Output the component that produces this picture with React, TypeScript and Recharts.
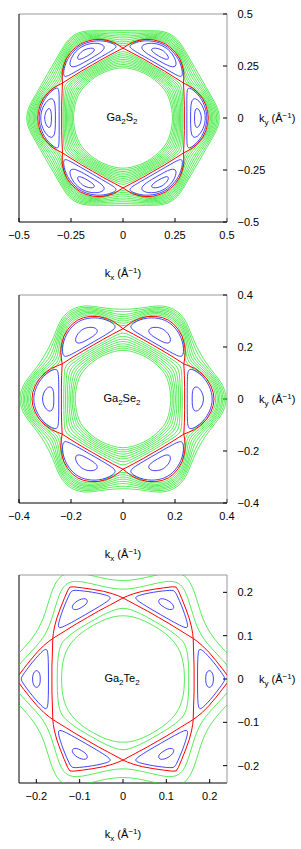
import { Scatter, ScatterChart, XAxis, YAxis } from "recharts"

// Contours. The rings give a radius every 5 degrees from the
// pocket axis (0 deg) to the saddle axis (30 deg). The pockets give the upper half of the
// right-hand pocket, running from its outer tip to its inner edge. The 6-fold and mirror
// symmetry of the plot fills in the rest.
const RING_ANGLES = [0, 5, 10, 15, 20, 25, 30]

const S2_TICKS = [-0.5, -0.25, 0, 0.25, 0.5]
const SE2_TICKS = [-0.4, -0.2, 0, 0.2, 0.4]
const TE2_TICKS = [-0.2, -0.1, 0, 0.1, 0.2]

const S2_INNER = [
  [0.238, 0.238, 0.238, 0.239, 0.24, 0.241, 0.242],
  [0.244, 0.244, 0.245, 0.246, 0.247, 0.249, 0.25],
  [0.25, 0.25, 0.251, 0.253, 0.255, 0.257, 0.258],
  [0.255, 0.256, 0.257, 0.259, 0.262, 0.265, 0.266],
  [0.261, 0.261, 0.263, 0.266, 0.269, 0.273, 0.275],
  [0.266, 0.267, 0.269, 0.272, 0.276, 0.281, 0.283],
  [0.272, 0.272, 0.275, 0.279, 0.284, 0.289, 0.292],
  [0.277, 0.278, 0.281, 0.285, 0.291, 0.297, 0.301],
  [0.283, 0.284, 0.287, 0.291, 0.298, 0.305, 0.311],
  [0.288, 0.289, 0.292, 0.297, 0.305, 0.314, 0.322],
]
const S2_OUTER = [
  [0.416, 0.414, 0.406, 0.392, 0.373, 0.355, 0.346],
  [0.422, 0.419, 0.41, 0.395, 0.377, 0.362, 0.356],
  [0.428, 0.425, 0.414, 0.399, 0.381, 0.37, 0.365],
  [0.434, 0.43, 0.419, 0.405, 0.389, 0.379, 0.374],
  [0.44, 0.436, 0.424, 0.411, 0.397, 0.388, 0.384],
  [0.446, 0.442, 0.429, 0.417, 0.404, 0.396, 0.393],
  [0.453, 0.448, 0.435, 0.423, 0.411, 0.405, 0.402],
  [0.459, 0.454, 0.441, 0.429, 0.419, 0.414, 0.411],
  [0.465, 0.46, 0.447, 0.435, 0.426, 0.422, 0.42],
]
const S2_RED = [
  [0.41, 0], [0.407, 0.03], [0.398, 0.062], [0.383, 0.093], [0.362, 0.12],
  [0.337, 0.143], [0.312, 0.157], [0.291, 0.168], [0.293, 0.12], [0.295, 0.06], [0.295, 0],
]
const S2_BLUE = [
  [
    [0.404, 0], [0.401, 0.03], [0.392, 0.06], [0.378, 0.09], [0.358, 0.116], [0.336, 0.136],
    [0.318, 0.146], [0.309, 0.14], [0.307, 0.11], [0.307, 0.06], [0.307, 0],
  ],
  [
    [0.396, 0], [0.394, 0.025], [0.386, 0.05], [0.373, 0.073], [0.357, 0.09], [0.342, 0.095],
    [0.331, 0.085], [0.326, 0.06], [0.325, 0.03], [0.325, 0],
  ],
  [
    [0.377, 0], [0.375, 0.016], [0.369, 0.034], [0.36, 0.046], [0.351, 0.046], [0.346, 0.033],
    [0.344, 0.016], [0.344, 0],
  ],
]

const SE2_INNER = [
  [0.184, 0.184, 0.184, 0.185, 0.186, 0.187, 0.188],
  [0.19, 0.19, 0.191, 0.192, 0.193, 0.195, 0.196],
  [0.196, 0.196, 0.197, 0.198, 0.2, 0.203, 0.204],
  [0.202, 0.202, 0.203, 0.205, 0.208, 0.211, 0.213],
  [0.208, 0.208, 0.21, 0.212, 0.216, 0.22, 0.222],
  [0.214, 0.215, 0.217, 0.22, 0.224, 0.229, 0.231],
  [0.221, 0.222, 0.224, 0.227, 0.232, 0.239, 0.243],
  [0.228, 0.229, 0.231, 0.235, 0.241, 0.249, 0.256],
]
const SE2_OUTER = [
  [0.358, 0.355, 0.345, 0.327, 0.305, 0.288, 0.28],
  [0.364, 0.361, 0.351, 0.334, 0.313, 0.297, 0.289],
  [0.369, 0.366, 0.356, 0.34, 0.32, 0.305, 0.298],
  [0.375, 0.371, 0.361, 0.345, 0.327, 0.313, 0.306],
  [0.381, 0.377, 0.366, 0.35, 0.334, 0.321, 0.315],
  [0.386, 0.382, 0.371, 0.355, 0.34, 0.329, 0.324],
  [0.392, 0.388, 0.376, 0.36, 0.347, 0.338, 0.335],
  [0.398, 0.394, 0.382, 0.366, 0.354, 0.347, 0.345],
]
const SE2_RED = [
  [0.35, 0], [0.347, 0.025], [0.338, 0.05], [0.322, 0.077], [0.3, 0.1], [0.275, 0.118],
  [0.252, 0.128], [0.234, 0.135], [0.236, 0.09], [0.237, 0.045], [0.237, 0],
]
const SE2_BLUE = [
  [
    [0.344, 0], [0.341, 0.025], [0.332, 0.05], [0.317, 0.075], [0.296, 0.097], [0.273, 0.112],
    [0.256, 0.116], [0.249, 0.105], [0.247, 0.07], [0.247, 0],
  ],
  [
    [0.31, 0], [0.308, 0.015], [0.301, 0.032], [0.29, 0.045], [0.277, 0.048], [0.269, 0.038],
    [0.266, 0.02], [0.266, 0],
  ],
]

const TE2_INNER = [
  [0.142, 0.142, 0.143, 0.144, 0.145, 0.146, 0.146],
  [0.152, 0.152, 0.154, 0.156, 0.159, 0.162, 0.164],
]
const TE2_OUTER = [
  [0.258, 0.25, 0.236, 0.224, 0.215, 0.209, 0.207],
  [0.28, 0.272, 0.258, 0.245, 0.235, 0.229, 0.227],
]
const TE2_RED = [
  [0.245, 0], [0.241, 0.008], [0.229, 0.024], [0.214, 0.043], [0.198, 0.062], [0.183, 0.077],
  [0.171, 0.087], [0.162, 0.0935], [0.163, 0.06], [0.164, 0.03], [0.164, 0],
]
const TE2_BLUE = [
  [
    [0.236, 0], [0.232, 0.008], [0.222, 0.022], [0.209, 0.039], [0.195, 0.055], [0.183, 0.067],
    [0.176, 0.07], [0.173, 0.06], [0.172, 0.03], [0.172, 0],
  ],
  [
    [0.209, 0], [0.208, 0.01], [0.204, 0.018], [0.199, 0.02], [0.194, 0.017], [0.191, 0.009],
    [0.191, 0],
  ],
]

const GREEN = "#22e622"
const BLUE = "#1414ff"
const RED = "#ff0000"
const FONT = "'Liberation Sans', Arial, Helvetica, sans-serif"

type Pt = { x: number; y: number }

function ringPoints(radii: number[]): Pt[] {
  const pts: Pt[] = []
  for (let a = 0; a < 360; a += 5) {
    const m = a % 60
    const r = radii[RING_ANGLES.indexOf(m > 30 ? 60 - m : m)]
    const t = (a * Math.PI) / 180
    pts.push({ x: r * Math.cos(t), y: r * Math.sin(t) })
  }
  return pts
}

function pocketLoops(upper: number[][]): Pt[][] {
  const half = upper.map(([x, y]) => ({ x, y }))
  const lower = half
    .slice(1, -1)
    .reverse()
    .map((p) => ({ x: p.x, y: -p.y }))
  const loop = [...half, ...lower]
  return [0, 1, 2, 3, 4, 5].map((k) => {
    const c = Math.cos((k * Math.PI) / 3)
    const s = Math.sin((k * Math.PI) / 3)
    return loop.map((p) => ({ x: p.x * c - p.y * s, y: p.x * s + p.y * c }))
  })
}

const noDot = () => <g />
const fmt = (v: number) => (v < 0 ? `\u2212${Math.abs(v)}` : `${v}`)

function Curve({ data, color, width, closed }: { data: Pt[]; color: string; width: number; closed: string }) {
  return (
    <Scatter
      xAxisId="b"
      yAxisId="r"
      data={data}
      fill="none"
      shape={noDot}
      line={{ stroke: color, strokeWidth: width }}
      lineType="joint"
      lineJointType={closed as any}
      isAnimationActive={false}
    />
  )
}

interface PanelProps {
  top: number
  lim: number
  ticks: number[]
  inner: number[][]
  outer: number[][]
  red: number[][]
  blue: number[][][]
  name: string
}

function Panel({ top, lim, ticks, inner, outer, red, blue, name }: PanelProps) {
  const tickStyle = { fill: "#000", fontSize: 11, fontFamily: FONT }
  const rings = [...inner, ...outer].map((r) => ringPoints(r))
  const blueLoops = blue.flatMap((b) => pocketLoops(b))
  const redLoops = pocketLoops(red)
  const sub = { fontSize: 8 }

  return (
    <div style={{ position: "absolute", left: 0, top, width: 301, height: 281 }}>
      <ScatterChart width={301} height={280} margin={{ top: 13, right: 34, bottom: 28, left: 18 }}>
        <XAxis
          xAxisId="b"
          type="number"
          dataKey="x"
          domain={[-lim, lim]}
          ticks={ticks}
          interval={0}
          allowDataOverflow
          height={30}
          tickSize={-4}
          tickMargin={13.5}
          axisLine={{ stroke: "#000" }}
          tickLine={{ stroke: "#000" }}
          tick={tickStyle}
          tickFormatter={fmt}
        />
        <XAxis
          xAxisId="t"
          orientation="top"
          type="number"
          dataKey="x"
          domain={[-lim, lim]}
          ticks={ticks}
          interval={0}
          allowDataOverflow
          height={1}
          tickSize={-4}
          axisLine={{ stroke: "#999" }}
          tickLine={{ stroke: "#000" }}
          tick={false}
        />
        <YAxis
          yAxisId="r"
          orientation="right"
          type="number"
          dataKey="y"
          domain={[-lim, lim]}
          ticks={ticks}
          interval={0}
          allowDataOverflow
          width={40}
          tickSize={-4}
          tickMargin={14.5}
          axisLine={{ stroke: "#999" }}
          tickLine={{ stroke: "#000" }}
          tick={tickStyle}
          tickFormatter={fmt}
        />
        <YAxis
          yAxisId="l"
          orientation="left"
          type="number"
          dataKey="y"
          domain={[-lim, lim]}
          ticks={ticks}
          interval={0}
          allowDataOverflow
          width={1}
          tickSize={-4}
          axisLine={{ stroke: "#000" }}
          tickLine={{ stroke: "#000" }}
          tick={false}
        />
        {rings.map((d, i) => (
          <Curve key={`g${i}`} data={d} color={GREEN} width={0.75} closed="basisClosed" />
        ))}
        {blueLoops.map((d, i) => (
          <Curve key={`b${i}`} data={d} color={BLUE} width={0.8} closed="basisClosed" />
        ))}
        {redLoops.map((d, i) => (
          <Curve key={`r${i}`} data={d} color={RED} width={1} closed="linearClosed" />
        ))}
      </ScatterChart>
      <svg
        width={301}
        height={281}
        style={{ position: "absolute", left: 0, top: 0, overflow: "visible", pointerEvents: "none" }}
        fontFamily={FONT}
        fontSize={11}
        fill="#000"
      >
        <text x={122} y={121} textAnchor="middle">
          {name.split(/(\d)/).map((part, i) =>
            /\d/.test(part) ? (
              <tspan key={i} dy={3} style={sub}>
                {part}
              </tspan>
            ) : part ? (
              <tspan key={i} dy={i === 0 ? 0 : -3}>
                {part}
              </tspan>
            ) : null,
          )}
        </text>
        <text x={259} y={122}>
          k<tspan dy={3} style={sub}>y</tspan>
          <tspan dy={-3}> (Å</tspan>
          <tspan dy={-4} style={sub}>{"\u22121"}</tspan>
          <tspan dy={4}>)</tspan>
        </text>
        <text x={123} y={276.5} textAnchor="middle">
          k<tspan dy={3} style={sub}>x</tspan>
          <tspan dy={-3}> (Å</tspan>
          <tspan dy={-4} style={sub}>{"\u22121"}</tspan>
          <tspan dy={4}>)</tspan>
        </text>
      </svg>
    </div>
  )
}

export default function App() {
  return (
    <div style={{ position: "absolute", left: 0, top: 0, width: 301, height: 849, background: "#fff" }}>
      <Panel top={0} lim={0.5} ticks={S2_TICKS} inner={S2_INNER} outer={S2_OUTER} red={S2_RED} blue={S2_BLUE} name="Ga2S2" />
      <Panel top={281} lim={0.4} ticks={SE2_TICKS} inner={SE2_INNER} outer={SE2_OUTER} red={SE2_RED} blue={SE2_BLUE} name="Ga2Se2" />
      <Panel top={561} lim={0.24} ticks={TE2_TICKS} inner={TE2_INNER} outer={TE2_OUTER} red={TE2_RED} blue={TE2_BLUE} name="Ga2Te2" />
    </div>
  )
}
